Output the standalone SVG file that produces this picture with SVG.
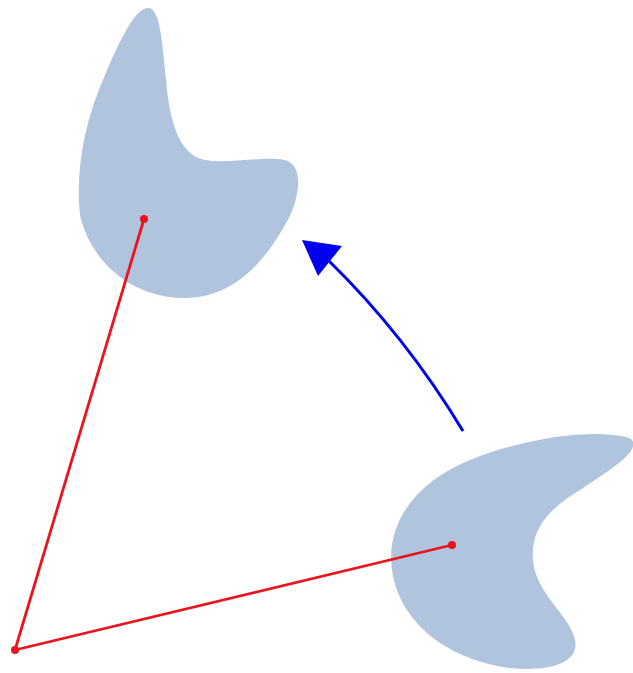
<svg xmlns="http://www.w3.org/2000/svg" width="633" height="673" viewBox="0 0 633 673">
<style>
.blob{fill:#b0c4de;stroke:none}
.red{stroke:#e8141e;stroke-width:2.8;fill:none}
.dot{fill:#e8141e}
.arrow{stroke:#0000ee;stroke-width:3;fill:none}
.head{fill:#0000ee}
</style>
<rect width="633" height="673" fill="#fff"/>
<g id="blob-top">
<path class="blob" d="M 148,8 C 160,8 162,40 166,80 C 170,125 180,155 205,160 C 230,164 260,156 285,160 C 305,165 300,200 285,225 C 265,260 235,298 185,298 C 130,298 90,260 80,215 C 75,170 85,120 105,75 C 120,40 135,8 148,8 Z"/>
</g>
<g id="blob-bottom">
<path class="blob" d="M 632,440 C 640,452 610,470 580,490 C 555,505 530,525 533,560 C 536,595 570,615 575,640 C 580,665 545,672 510,668 C 450,660 400,625 392,570 C 385,520 420,480 470,460 C 520,440 570,433 600,434 C 620,435 630,437 632,440 Z"/>
</g>
<g id="connectors">
<line class="red" x1="15" y1="650" x2="144" y2="219"/>
<line class="red" x1="15" y1="650" x2="452" y2="545"/>
<path class="arrow" d="M 463,431 Q 405,335 328,260"/>
<polygon class="head" points="302,240 342,246 318,276"/>
</g>
<g id="points">
<circle class="dot" cx="144" cy="219" r="4"/>
<circle class="dot" cx="452" cy="545" r="4"/>
<circle class="dot" cx="15" cy="650" r="4"/>
</g>
</svg>
